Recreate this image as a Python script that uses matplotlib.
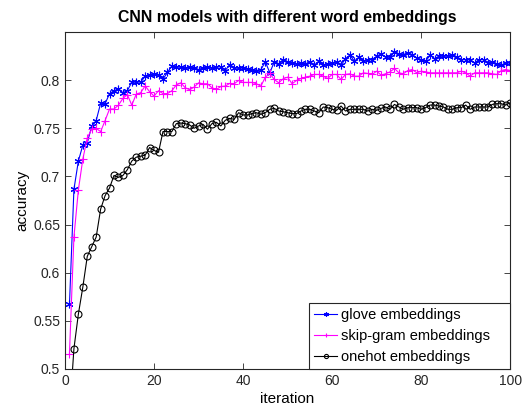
import matplotlib
matplotlib.use("Agg")
import matplotlib.pyplot as plt

plt.rcParams['font.family'] = ['Liberation Sans', 'DejaVu Sans']

# iteration numbers
iterations = list(range(1, 101))

# accuracy per iteration
glove = [0.567, 0.6865, 0.716, 0.7324, 0.735, 0.752, 0.758, 0.776, 0.7755, 0.786,
         0.789, 0.791, 0.787, 0.789, 0.798, 0.798, 0.798, 0.804, 0.805, 0.806,
         0.8055, 0.801, 0.808, 0.8145, 0.8135, 0.8134, 0.8128, 0.8134, 0.8121, 0.811,
         0.8128, 0.8141, 0.8128, 0.8134, 0.8141, 0.810, 0.8162, 0.8128, 0.8121, 0.8128,
         0.8114, 0.8103, 0.810, 0.811, 0.819, 0.8076, 0.819, 0.8169, 0.8214, 0.819,
         0.8179, 0.8169, 0.8179, 0.8169, 0.819, 0.8155, 0.8197, 0.8155, 0.8169, 0.8179,
         0.819, 0.8155, 0.8224, 0.8259, 0.8197, 0.8238, 0.8197, 0.8214, 0.8214, 0.8248,
         0.8272, 0.8238, 0.8238, 0.8293, 0.8272, 0.8266, 0.8283, 0.8266, 0.8231, 0.8214,
         0.8197, 0.8259, 0.8224, 0.8248, 0.8248, 0.8248, 0.8259, 0.8238, 0.8214, 0.8214,
         0.8214, 0.8179, 0.8214, 0.8214, 0.8179, 0.819, 0.8169, 0.8155, 0.8179, 0.8179]

skipgram = [0.516, 0.637, 0.686, 0.718, 0.740, 0.749, 0.750, 0.7465, 0.758, 0.770,
            0.770, 0.774, 0.781, 0.785, 0.774, 0.7855, 0.787, 0.794, 0.788, 0.7834,
            0.789, 0.786, 0.786, 0.789, 0.795, 0.7972, 0.7921, 0.790, 0.7928, 0.7972,
            0.7962, 0.7962, 0.7921, 0.7903, 0.7934, 0.7938, 0.7966, 0.7962, 0.7997, 0.7976,
            0.7976, 0.7976, 0.7962, 0.7938, 0.8031, 0.8069, 0.8007, 0.7972, 0.8014, 0.8031,
            0.7962, 0.7997, 0.8017, 0.8031, 0.8041, 0.8059, 0.8059, 0.8041, 0.8017, 0.8059,
            0.8059, 0.8007, 0.8059, 0.8066, 0.8041, 0.8041, 0.8076, 0.8069, 0.8059, 0.8093,
            0.8052, 0.8066, 0.8086, 0.8121, 0.8076, 0.8066, 0.810, 0.811, 0.8076, 0.8093,
            0.8086, 0.8076, 0.8076, 0.8076, 0.8076, 0.8076, 0.8076, 0.8076, 0.8093, 0.8076,
            0.8041, 0.8076, 0.8076, 0.8076, 0.8076, 0.8066, 0.8059, 0.810, 0.811, 0.810]

onehot = [0.452, 0.521, 0.557, 0.585, 0.617, 0.627, 0.637, 0.666, 0.680, 0.688,
          0.701, 0.699, 0.701, 0.707, 0.716, 0.720, 0.721, 0.722, 0.730, 0.727,
          0.725, 0.7466, 0.7466, 0.7466, 0.7548, 0.7555, 0.7548, 0.7534, 0.750, 0.7524,
          0.7541, 0.749, 0.7548, 0.7562, 0.7524, 0.7583, 0.7603, 0.7593, 0.7662, 0.7638,
          0.7638, 0.7652, 0.7662, 0.7645, 0.7662, 0.7697, 0.7707, 0.7679, 0.7672, 0.7662,
          0.7652, 0.7652, 0.7679, 0.7697, 0.7697, 0.7679, 0.7662, 0.7721, 0.7714, 0.7697,
          0.7686, 0.7731, 0.7679, 0.7697, 0.7697, 0.7697, 0.7697, 0.7679, 0.7697, 0.7686,
          0.7707, 0.7721, 0.7697, 0.7748, 0.7721, 0.7697, 0.7714, 0.7714, 0.7714, 0.7697,
          0.7714, 0.7741, 0.7741, 0.7731, 0.7721, 0.7697, 0.7697, 0.7714, 0.7714, 0.7741,
          0.7697, 0.7721, 0.7721, 0.7721, 0.7721, 0.7748, 0.7755, 0.7755, 0.7741, 0.7766]

yticks = [0.5, 0.55, 0.6, 0.65, 0.7, 0.75, 0.8]
ytick_labels = ['0.5', '0.55', '0.6', '0.65', '0.7', '0.75', '0.8']
xticks = [0, 20, 40, 60, 80, 100]

fig = plt.figure(figsize=(5.26, 4.08), dpi=100)
ax = fig.add_axes([0.1236, 0.0956, 0.8464, 0.826])

asterisk = (6, 2, 0)  # '*' a la MATLAB
ax.plot(iterations, glove, color='blue', marker=asterisk, markersize=5.5,
        linewidth=0.8, markeredgewidth=0.8, label='glove embeddings')
ax.plot(iterations, skipgram, color='magenta', marker='+', markersize=5.5,
        linewidth=0.8, markeredgewidth=0.8, label='skip-gram embeddings')
ax.plot(iterations, onehot, color='black', marker='o', markersize=5,
        markerfacecolor='none', linewidth=0.8, markeredgewidth=0.8,
        label='onehot embeddings')

ax.set_xlim(0, 100)
ax.set_ylim(0.5, 0.85)
ax.set_xticks(xticks)
ax.set_yticks(yticks)
ax.set_yticklabels(ytick_labels)
ax.tick_params(direction='in', top=True, right=True, labelsize=10,
               length=4, width=0.6, colors='#262626')
for sp in ax.spines.values():
    sp.set_linewidth(0.8)
    sp.set_color('#262626')

ax.set_xlabel('iteration', fontsize=11, labelpad=3)
ax.set_ylabel('accuracy', fontsize=11, labelpad=3)
ax.set_title('CNN models with different word embeddings', fontsize=11.4,
             fontweight='bold', pad=7)

# legend stretched to the reference box width, anchored at lower right
leg = ax.legend(loc='lower left', bbox_to_anchor=(0.548, 0.0, 0.452, 0.2),
                mode='expand', borderaxespad=0, fancybox=False,
                framealpha=1, edgecolor='#262626', fontsize=10.5,
                handlelength=1.6, handletextpad=0.25, labelspacing=0.46,
                borderpad=0.35, markerscale=0.6)
leg.get_frame().set_linewidth(0.8)

fig.savefig('out.png', dpi=100)
